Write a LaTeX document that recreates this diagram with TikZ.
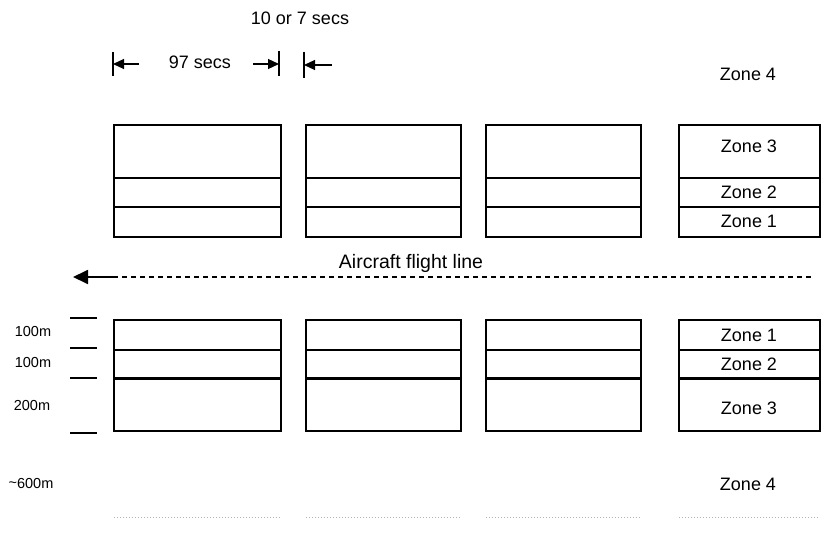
\documentclass[tikz,border=0pt]{standalone}
\usepackage{fontspec}
\setmainfont{Liberation Sans}
\usetikzlibrary{arrows.meta}

\begin{document}
\begin{tikzpicture}[x=1pt,y=-1pt,
    lbl/.style={inner sep=0pt, font=\fontsize{18}{20}\selectfont},
    dist/.style={inner sep=0pt, font=\fontsize{14.5}{16}\selectfont},
    zbox/.style={draw, line width=1.3pt},
    bar/.style={line width=1.4pt},
    dimarr/.style={-{Triangle[length=11pt,width=10pt]}, line width=1.2pt},
    flarr/.style={-{Triangle[length=15pt,width=14pt]}, line width=1.8pt},
    flline/.style={line width=1.2pt, dash pattern=on 5pt off 4pt}
]
\useasboundingbox (0,0) rectangle (824,543);

% plots either side of the flight line
\foreach \xa/\xb in {114/281, 306/461, 486/641, 679/820} {
  \draw[zbox] (\xa,125) rectangle (\xb,237);
  \draw[zbox] (\xa,178) -- (\xb,178);
  \draw[zbox] (\xa,207) -- (\xb,207);
  \draw[zbox] (\xa,320) rectangle (\xb,431);
  \draw[zbox] (\xa,350) -- (\xb,350);
  \draw[line width=3pt] (\xa,378) -- (\xb,378);
  \draw[gray!60, dotted, line width=1pt] (\xa,517) -- (\xb,517);
}

% zone labels
\node[lbl] (z4top) at (748,74) {Zone 4};
\node[lbl] (z3top) at (749,146) {Zone 3};
\node[lbl] (z2top) at (749,192) {Zone 2};
\node[lbl] (z1top) at (749,221) {Zone 1};
\node[lbl] (z1bot) at (749,335) {Zone 1};
\node[lbl] (z2bot) at (749,364) {Zone 2};
\node[lbl] (z3bot) at (749,408) {Zone 3};
\node[lbl] (z4bot) at (748,484) {Zone 4};

% timing
\node[lbl] (gap) at (300,18) {10 or 7 secs};
\node[lbl] (run) at (200,62) {97 secs};
\coordinate (barA) at (113,64);
\coordinate (barB) at (279,64);
\coordinate (barC) at (304,65);
\draw[bar] (113,52) -- (113,76);
\draw[bar] (279,51) -- (279,76);
\draw[bar] (304,52) -- (304,78);
\coordinate (tA) at (139,64);
\coordinate (tB) at (253,64);
\coordinate (tC) at (332,65);
\draw[dimarr] (tA) -- (barA);
\draw[dimarr] (tB) -- (barB);
\draw[dimarr] (tC) -- (barC);

% flight line
\node[lbl, font=\fontsize{19.5}{22}\selectfont] (flight) at (411,263) {Aircraft flight line};
\coordinate (flS) at (113,277);
\coordinate (flT) at (73,277);
\coordinate (flE) at (812,277);
\draw[flarr] (flS) -- (flT);
\draw[flline] (flS) -- (flE);

% distances
\foreach \y in {318, 348, 378, 433}
  \draw[line width=1.4pt] (70,\y) -- (97,\y);
\node[dist] (d1) at (33,332) {100m};
\node[dist] (d2) at (33,363) {100m};
\node[dist] (d3) at (32,406) {200m};
\node[dist] (d4) at (31,484) {\raisebox{0.2ex}{\textasciitilde}600m};
\end{tikzpicture}
\end{document}
